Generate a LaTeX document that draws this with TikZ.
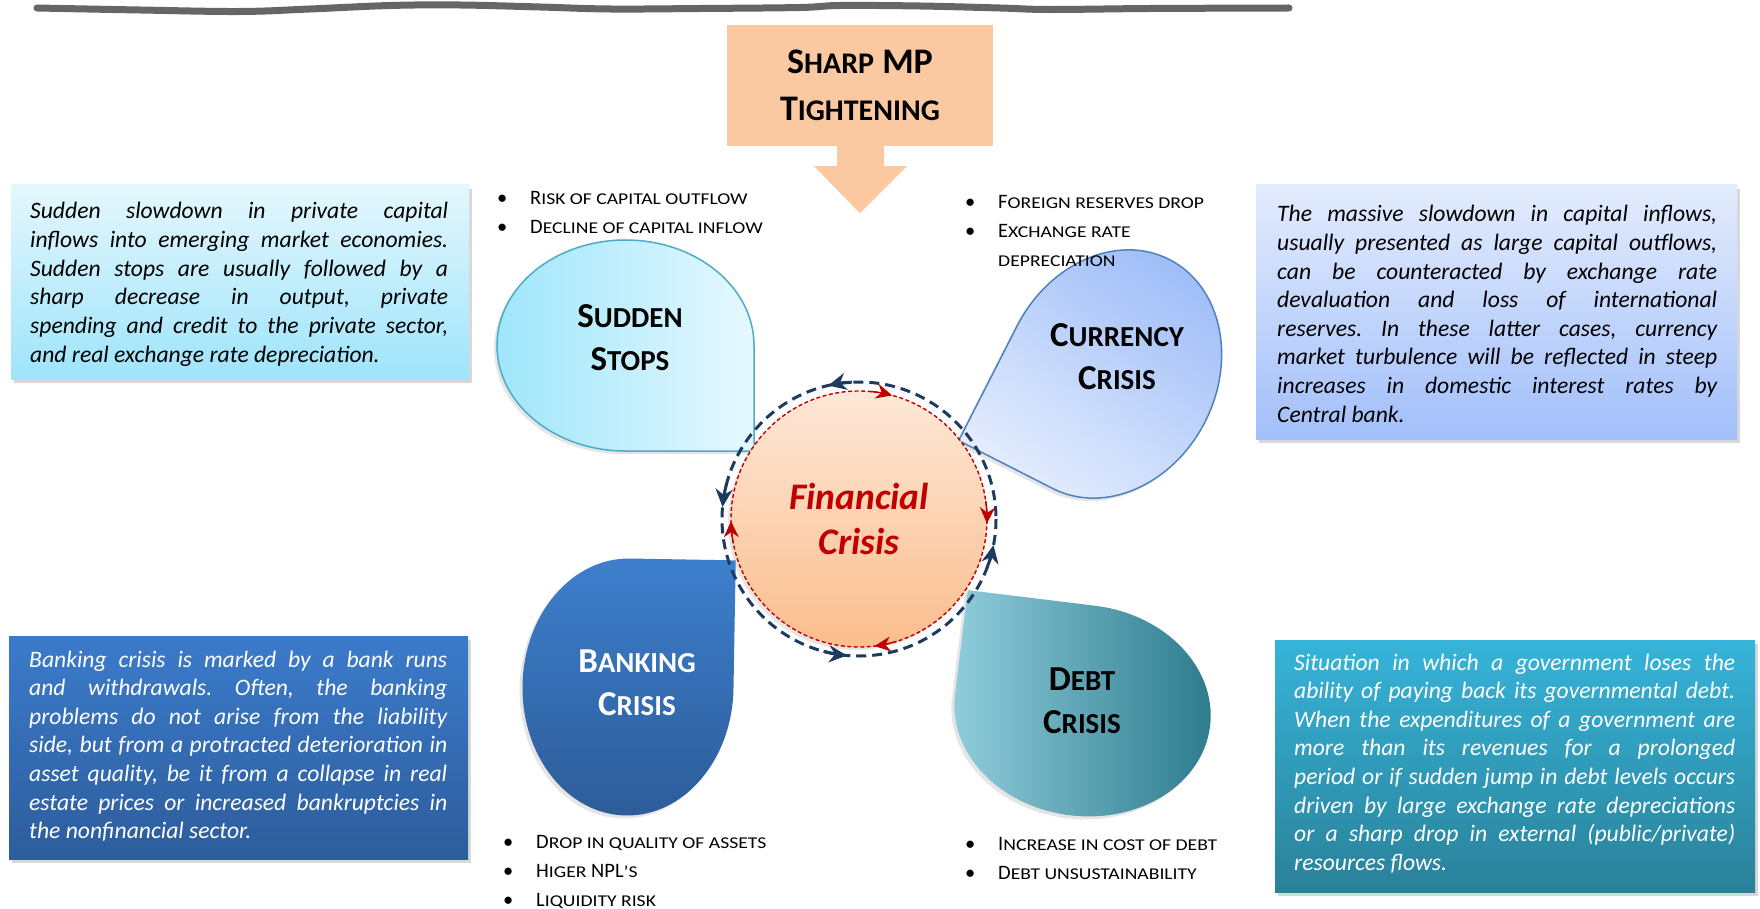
\documentclass[tikz,border=0pt]{standalone}
\usepackage{fontspec}
\setmainfont{Carlito}
\usetikzlibrary{arrows.meta,shadows,calc}
\frenchspacing

\definecolor{peach}{HTML}{FAC9A1}
\definecolor{penline}{HTML}{666666}
\definecolor{navyring}{HTML}{1F3A5F}
\definecolor{critred}{HTML}{C00000}
\definecolor{circtop}{HTML}{FDE8D8}
\definecolor{circbot}{HTML}{FBBD8C}
\definecolor{sudtop}{HTML}{E4F7FD}
\definecolor{sudbot}{HTML}{9EE4FB}
\definecolor{curtop}{HTML}{E3ECFD}
\definecolor{curbot}{HTML}{A2BFFA}
\definecolor{banktop}{HTML}{3B7BCB}
\definecolor{bankbot}{HTML}{2D5D9C}
\definecolor{debttop}{HTML}{36B4D9}
\definecolor{debtbot}{HTML}{2A8199}
\definecolor{sudL}{HTML}{A0E6FB}
\definecolor{sudR}{HTML}{E6F8FE}
\definecolor{sudedge}{HTML}{4BACC6}
\definecolor{curdark}{HTML}{9DBCF8}
\definecolor{curlight}{HTML}{E6EEFE}
\definecolor{curedge}{HTML}{4F81BD}
\definecolor{bankA}{HTML}{3D7FCD}
\definecolor{bankB}{HTML}{2D5C99}
\definecolor{debtL}{HTML}{92CEDD}
\definecolor{debtM}{HTML}{4BADC7}
\definecolor{debtR}{HTML}{2B7A8C}

% small capitals built from reduced capitals
\newcommand\lo[2]{{\fontsize{#1}{\baselineskip}\selectfont #2}}
\newcommand\lw[2]{{\fontsize{#1}{\baselineskip}\selectfont\scalebox{1.19}[1]{#2}}}
\newcommand\bul{\makebox[33pt][l]{\textbullet}}

\begin{document}
\begin{tikzpicture}[x=1pt,y=-1pt,
  every node/.style={inner sep=0pt},
  boxtext/.style={align=justify, font=\itshape\fontsize{23.6}{28.6}\selectfont},
  bullets/.style={align=left, font=\fontsize{20.5}{29}\selectfont},
  blobtitle/.style={align=center, font=\bfseries\fontsize{35}{43}\selectfont},
  panelshadow/.style={drop shadow={shadow xshift=3pt, shadow yshift=-4pt, opacity=0.3}},
  blobshadow/.style={drop shadow={shadow xshift=-3pt, shadow yshift=-3pt, opacity=0.2}},
  tearframe/.style n args={3}{shift={(#1,#2)},
     x={({cos(#3)*1pt},{-sin(#3)*1pt})}, y={({-sin(#3)*1pt},{-cos(#3)*1pt})}}
]
\useasboundingbox (0,0) rectangle (1760,909);
\fill[white] (0,0) rectangle (1760,909);

% hand-drawn rule along the top
\draw[penline, line width=7pt, line cap=round, line join=round]
  plot[smooth, tension=0.6] coordinates {(37,8) (140,10) (240,11.5) (310,9) (390,5.5) (460,5)
  (540,7) (610,9) (700,8.5) (800,7.5) (840,5.5) (920,6) (1000,8) (1050,9.5) (1150,8.5) (1289,8)};

% description panels
\path[top color=sudtop, bottom color=sudbot, panelshadow] (11,185) rectangle (469,379);
\path[top color=curtop, bottom color=curbot, panelshadow] (1256,185) rectangle (1737,439);
\path[top color=banktop, bottom color=bankbot, panelshadow] (9,636) rectangle (468,859);
\path[top color=debttop, bottom color=debtbot, panelshadow] (1275,640) rectangle (1755,892);

\node[boxtext, text width=418pt, anchor=base west] (sstext) at (30,219)
 {Sudden slowdown in private capital\linebreak inflows into emerging market economies.\linebreak
  Sudden stops are usually followed by a\linebreak sharp decrease in output, private\linebreak
  spending and credit to the private sector,\linebreak and real exchange rate depreciation.};
\node[boxtext, text width=440pt, anchor=base west] (cctext) at (1277,222)
 {The massive slowdown in capital inflows,\linebreak usually presented as large capital outflows,\linebreak
  can be counteracted by exchange rate\linebreak devaluation and loss of international\linebreak
  reserves. In these latter cases, currency\linebreak market turbulence will be reflected in steep\linebreak
  increases in domestic interest rates by\linebreak Central bank.};
\node[boxtext, text=white, text width=418pt, anchor=base west] (bctext) at (29,667)
 {Banking crisis is marked by a bank runs\linebreak and withdrawals. Often, the banking\linebreak
  problems do not arise from the liability\linebreak side, but from a protracted deterioration in\linebreak
  asset quality, be it from a collapse in real\linebreak estate prices or increased bankruptcies in\linebreak
  the nonfinancial sector.};
\node[boxtext, text=white, text width=441pt, anchor=base west] (dctext) at (1294,670)
 {Situation in which a government loses the\linebreak ability of paying back its governmental debt.\linebreak
  When the expenditures of a government are\linebreak more than its revenues for a prolonged\linebreak
  period or if sudden jump in debt levels occurs\linebreak driven by large exchange rate depreciations\linebreak
  or a sharp drop in external (public/private)\linebreak resources flows.};

% policy shock box and its arrow
\node[fill=peach, minimum width=266pt, minimum height=121pt, align=center,
      font=\bfseries\fontsize{36}{47}\selectfont] (mp) at (860,85.5)
 {S\lo{30}{HARP} MP\\T\lo{30}{IGHTENING}};
\fill[peach] ($(mp.south)+(-23,-1)$) -- ($(mp.south)+(24,-1)$) -- ($(mp.south)+(24,20)$)
  -- ($(mp.south)+(47,20)$) -- ($(mp.south)+(0,67)$) -- ($(mp.south)+(-46,20)$)
  -- ($(mp.south)+(-23,20)$) -- cycle;

% four teardrops
\begin{scope}[tearframe={625.5}{345.5}{0}]
  \path[left color=sudL, right color=sudR, draw=sudedge, line width=1.5pt, blobshadow]
    (0,105.5) arc[start angle=90, end angle=360, x radius=128.5, y radius=105.5] -- (128.5,105.5) -- cycle;
\end{scope}
\begin{scope}[tearframe={1111}{374}{117}]
  \path[top color=curdark, bottom color=curlight, shading angle=-35, draw=curedge, line width=1.5pt, blobshadow]
    (0,105.5) arc[start angle=90, end angle=360, x radius=128.5, y radius=105.5] -- (128.5,105.5) -- cycle;
\end{scope}
\begin{scope}[tearframe={628}{687}{-89}]
  \path[top color=bankA, bottom color=bankB, blobshadow]
    (0,105.5) arc[start angle=90, end angle=360, x radius=128.5, y radius=105.5] -- (128.5,105.5) -- cycle;
\end{scope}
\begin{scope}[tearframe={1082.5}{710.5}{187}]
  \path[left color=debtL, middle color=debtM, right color=debtR, blobshadow]
    (0,105.5) arc[start angle=90, end angle=360, x radius=128.5, y radius=105.5] -- (128.5,105.5) -- cycle;
\end{scope}

% titles: the base anchor sits on the last line
\node[blobtitle, anchor=base] (ss) at (630,370) {S\lo{29}{UDDEN}\\S\lo{29}{TOPS}};
\node[blobtitle, anchor=base] (cc) at (1117,389) {C\lo{29}{URRENCY}\\C\lo{29}{RISIS}};
\node[blobtitle, anchor=base, text=white] (bc) at (637,715) {B\lo{29}{ANKING}\\C\lo{29}{RISIS}};
\node[blobtitle, anchor=base] (dc) at (1082,733) {D\lo{29}{EBT}\\C\lo{29}{RISIS}};

% bullet lists
\node[bullets, anchor=base west] (sslist) at (497,234)
 {\bul R\lw{16.5}{ISK OF CAPITAL OUTFLOW}\\\bul D\lw{16.5}{ECLINE OF CAPITAL INFLOW}};
\node[bullets, anchor=base west] (cclist) at (965,266)
 {\bul F\lw{16.5}{OREIGN RESERVES DROP}\\\bul E\lw{16.5}{XCHANGE RATE}\\\hspace*{33pt}\lw{16.5}{DEPRECIATION}};
\node[bullets, anchor=base west] (bclist) at (503,906)
 {\bul D\lw{16.5}{ROP IN QUALITY OF ASSETS}\\\bul H\lw{16.5}{IGER} NPL\lw{16.5}{’S}\\\bul L\lw{16.5}{IQUIDITY RISK}};
\node[bullets, anchor=base west] (dclist) at (965,879)
 {\bul I\lw{16.5}{NCREASE IN COST OF DEBT}\\\bul D\lw{16.5}{EBT UNSUSTAINABILITY}};

% central circle with its two rings
\node[circle, minimum size=256pt, top color=circtop, bottom color=circbot, draw=critred,
      line width=1.4pt, dash pattern=on 4pt off 2.5pt, blobshadow, align=center, text=critred,
      font=\bfseries\itshape\fontsize{37.5}{45}\selectfont] (fc) at (859,519) {Financial\\Crisis};
\draw[navyring, line width=3pt, dash pattern=on 10pt off 6pt] (fc.center) circle[radius=137];
\foreach \a in {262,190,100,16}
  \draw[navyring, line width=3pt, -{Stealth[length=18pt,width=17pt]}]
    ($(fc.center)+(\a+5:137)$) arc[start angle=\a+5, end angle=\a-5, radius=137];
\foreach \a in {280,357,78,174}
  \draw[critred, line width=1.4pt, -{Stealth[length=16pt,width=15pt]}]
    ($(fc.center)+(\a-5:128)$) arc[start angle=\a-5, end angle=\a+5, radius=128];
\end{tikzpicture}
\end{document}
